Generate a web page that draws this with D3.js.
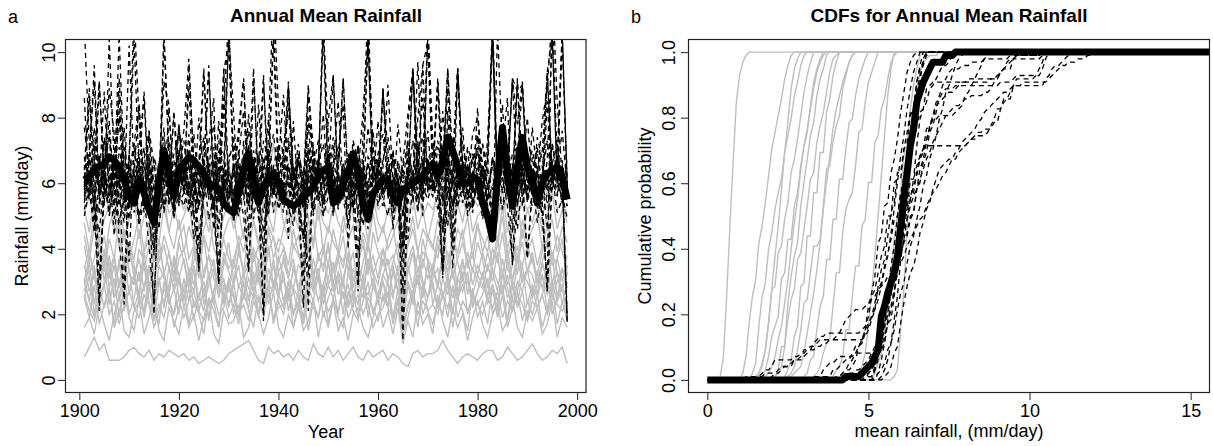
<!DOCTYPE html>
<html>
<head>
<meta charset="utf-8">
<script src="https://cdn.jsdelivr.net/npm/d3@7"></script>
<style>
body { margin: 0; background: #fff; }
svg { font-family: "Liberation Sans", Arial, sans-serif; }
</style>
</head>
<body>
<div id="chart"></div>
<script>
// years of record
const years = d3.range(1901, 1999);

// thick black series (observed)
const observed = [
  6.1, 6.2, 6.4, 6.5, 6.6, 6.8, 6.7, 6.5, 6.1, 5.6,
  5.4, 6.1, 5.7, 5.2, 4.8, 6.0, 7.0, 6.3, 5.6, 6.3,
  6.6, 6.8, 6.7, 6.5, 6.3, 6.0, 5.9, 5.8, 5.4, 5.2,
  5.1, 5.8, 6.4, 6.9, 6.0, 5.4, 5.9, 6.2, 6.3, 6.0,
  5.5, 5.4, 5.3, 5.4, 5.6, 5.7, 5.9, 6.2, 6.4, 6.5,
  5.4, 5.5, 6.0, 6.3, 6.9, 6.3, 5.4, 4.9, 5.7, 5.9,
  6.1, 6.1, 5.6, 5.4, 5.8, 5.9, 6.0, 6.1, 6.2, 6.4,
  6.6, 6.2, 6.7, 7.4, 7.0, 6.5, 6.0, 6.0, 6.2, 6.1,
  5.4, 5.0, 4.3, 6.2, 7.7, 6.3, 5.3, 6.5, 7.4, 6.5,
  6.1, 5.4, 6.0, 6.3, 6.4, 6.5, 6.2, 5.5
];

// dashed black series (wet models)
const modelsHigh = [
  [10.8, 7.2, 5.1, 2.4, 6.3, 8.9, 7.5, 4.2, 2.6, 6.8,
   11.2, 7.9, 5.6, 4.1, 2.3, 6.2, 9.1, 8.4, 5.3, 6.9,
   7.6, 9.8, 6.5, 3.5, 5.8, 7.2, 8.6, 3.2, 6.4, 10.6,
   8.1, 5.4, 7.3, 4.4, 9.2, 6.0, 2.1, 7.7, 11.8, 8.3,
   6.6, 4.3, 7.9, 5.5, 3.0, 8.8, 7.1, 6.3, 10.9, 7.4,
   5.2, 6.8, 8.4, 4.0, 6.7, 2.9, 7.6, 11.5, 6.2, 5.7,
   8.7, 7.0, 4.6, 6.1, 2.7, 7.8, 9.4, 6.9, 5.0, 11.0,
   7.3, 6.5, 3.4, 8.2, 4.3, 9.5, 6.6, 5.9, 7.5, 8.0,
   6.4, 5.3, 4.2, 10.7, 7.0, 8.6, 4.5, 6.8, 9.0, 5.6,
   7.7, 6.2, 4.9, 3.0, 12.0, 8.5, 6.1, 2.0],
  [6.4, 8.9, 5.6, 5.1, 7.3, 6.0, 5.4, 9.2, 6.2, 4.9,
   5.9, 7.1, 8.6, 5.5, 4.6, 6.3, 7.4, 5.8, 8.2, 5.3,
   6.6, 5.7, 7.5, 5.9, 9.4, 6.1, 5.2, 6.8, 7.0, 5.6,
   6.2, 7.7, 9.1, 5.4, 6.0, 6.9, 5.8, 5.0, 6.5, 7.2,
   5.7, 8.8, 6.3, 5.5, 4.4, 7.1, 5.1, 6.6, 6.0, 7.9,
   9.3, 5.9, 5.6, 6.7, 7.2, 4.8, 6.4, 5.8, 7.6, 6.1,
   8.9, 5.5, 6.8, 6.0, 4.2, 6.9, 6.3, 8.0, 9.6, 5.7,
   6.2, 9.0, 5.3, 6.7, 7.4, 5.8, 6.5, 5.6, 6.1, 7.0,
   5.8, 7.3, 10.4, 5.9, 5.2, 6.6, 9.1, 6.2, 5.9, 6.8,
   5.6, 6.4, 7.0, 9.3, 6.1, 6.7, 5.4, 6.3],
  [5.6, 6.4, 5.3, 4.5, 6.1, 7.6, 4.9, 6.2, 5.5, 6.9,
   5.1, 6.0, 7.1, 4.8, 3.9, 5.8, 6.5, 7.3, 5.4, 6.3,
   5.8, 7.5, 5.0, 3.4, 6.2, 5.6, 6.7, 4.6, 6.4, 5.5,
   6.6, 5.2, 6.0, 7.2, 4.9, 6.1, 5.7, 6.9, 5.1, 6.0,
   5.5, 6.5, 5.8, 5.2, 4.3, 6.3, 7.1, 5.4, 6.0, 6.8,
   5.0, 6.2, 5.6, 6.6, 5.9, 3.9, 6.4, 5.7, 7.0, 5.3,
   6.0, 6.5, 5.1, 5.7, 4.1, 6.2, 7.3, 5.5, 6.3, 7.6,
   5.8, 6.6, 4.5, 6.9, 5.3, 6.0, 5.7, 6.5, 5.2, 6.2,
   5.5, 4.9, 4.2, 6.8, 7.8, 5.8, 6.3, 5.6, 6.9, 6.0,
   6.4, 5.2, 6.1, 4.6, 6.6, 7.2, 5.8, 5.3],
  [7.7, 6.3, 5.7, 6.9, 5.3, 10.4, 6.6, 5.9, 7.1, 5.5,
   6.5, 6.1, 5.6, 7.5, 5.0, 5.9, 6.8, 6.0, 5.2, 7.8,
   6.0, 6.7, 6.2, 5.4, 7.2, 6.4, 7.9, 5.8, 9.5, 6.1,
   5.6, 6.6, 5.9, 8.1, 6.2, 5.3, 6.8, 6.0, 5.7, 7.1,
   6.4, 5.8, 5.4, 6.9, 6.1, 9.0, 6.5, 5.6, 6.2, 7.0,
   5.8, 6.3, 9.2, 5.9, 5.2, 7.1, 6.0, 6.6, 5.5, 6.8,
   6.2, 5.7, 7.0, 5.4, 6.4, 5.9, 9.5, 6.1, 5.6, 6.7,
   7.1, 6.2, 5.8, 6.9, 6.0, 9.5, 6.5, 5.1, 5.9, 7.4,
   6.6, 6.0, 4.9, 5.8, 7.0, 6.3, 5.9, 9.1, 6.4, 5.5,
   6.8, 5.7, 6.2, 7.3, 6.0, 6.6, 10.5, 5.9],
  [5.2, 5.9, 6.6, 3.1, 5.5, 6.2, 5.3, 6.5, 2.3, 5.7,
   6.3, 5.0, 5.6, 6.8, 3.8, 5.9, 6.5, 5.3, 6.1, 5.4,
   5.7, 6.6, 5.1, 5.8, 6.3, 4.9, 5.6, 3.0, 6.2, 5.3,
   6.5, 5.4, 5.9, 3.4, 6.7, 5.7, 5.1, 6.2, 5.6, 6.4,
   5.3, 5.9, 6.5, 5.5, 2.2, 6.1, 5.7, 6.8, 5.0, 5.6,
   6.3, 5.2, 5.8, 6.1, 5.4, 2.7, 6.5, 5.9, 5.3, 6.7,
   5.6, 6.1, 5.2, 5.9, 1.6, 6.3, 5.7, 6.8, 5.4, 6.2,
   5.9, 6.5, 3.2, 5.6, 5.1, 6.1, 5.8, 6.6, 5.3, 6.3,
   5.5, 5.9, 6.5, 5.7, 6.2, 5.3, 3.6, 6.6, 5.6, 6.1,
   5.7, 6.3, 5.4, 2.7, 6.5, 5.9, 6.1, 1.8],
  [6.2, 7.0, 9.1, 5.6, 7.4, 6.5, 5.3, 7.1, 6.0, 6.6,
   10.4, 6.3, 5.5, 6.9, 5.8, 6.4, 7.7, 5.4, 6.1, 7.0,
   5.7, 9.6, 6.6, 5.9, 6.8, 5.5, 6.3, 7.3, 5.8, 10.5,
   6.5, 5.4, 6.9, 6.0, 9.5, 5.6, 6.6, 7.1, 5.9, 5.3,
   6.8, 6.2, 5.7, 6.7, 5.5, 7.2, 6.1, 6.5, 10.6, 5.8,
   6.9, 5.6, 6.6, 6.1, 7.0, 5.7, 6.3, 10.4, 5.5, 6.5,
   5.9, 6.8, 5.6, 6.7, 6.0, 7.3, 5.4, 6.4, 5.8, 10.5,
   6.6, 6.0, 6.9, 5.6, 6.5, 5.9, 6.8, 5.5, 6.3, 7.1,
   5.8, 6.6, 10.6, 6.1, 6.9, 5.6, 6.5, 5.9, 6.8, 5.4,
   6.3, 7.1, 5.7, 6.7, 10.5, 6.0, 6.5, 5.6],
  [5.0, 5.8, 4.5, 5.4, 6.3, 5.1, 6.0, 4.8, 5.7, 5.3,
   6.0, 4.7, 5.5, 6.4, 4.2, 5.8, 5.2, 6.1, 5.0, 5.7,
   5.3, 6.1, 4.9, 5.8, 5.5, 6.3, 4.6, 5.7, 5.2, 6.0,
   5.4, 5.0, 6.0, 5.3, 6.4, 4.9, 4.1, 5.8, 6.2, 5.2,
   5.7, 5.3, 4.7, 6.0, 5.5, 6.2, 5.0, 5.9, 5.3, 6.5,
   5.1, 6.0, 5.5, 4.8, 6.2, 5.7, 4.7, 5.9, 5.3, 6.1,
   5.5, 5.0, 6.2, 5.6, 5.1, 4.3, 6.0, 5.3, 5.9, 5.5,
   6.1, 5.2, 5.7, 4.7, 6.2, 5.3, 5.9, 5.0, 5.5, 6.1,
   4.9, 5.7, 5.3, 6.2, 5.2, 5.9, 5.5, 4.6, 6.1, 5.7,
   5.3, 5.9, 5.0, 5.7, 6.3, 5.1, 5.5, 6.0],
  [5.9, 8.6, 6.8, 5.5, 6.6, 7.9, 5.8, 8.2, 6.3, 3.6,
   7.1, 5.7, 6.7, 7.6, 5.9, 5.3, 10.4, 6.9, 6.0, 6.5,
   7.3, 5.8, 6.8, 4.1, 6.3, 9.4, 5.9, 7.0, 5.6, 6.6,
   7.4, 6.0, 6.5, 5.5, 7.0, 5.9, 3.8, 6.7, 7.5, 6.2,
   5.8, 7.2, 6.1, 6.9, 5.6, 3.2, 6.5, 7.3, 5.9, 6.7,
   7.1, 6.3, 5.8, 6.9, 6.0, 7.2, 5.6, 4.6, 6.5, 5.9,
   6.7, 7.4, 6.2, 5.6, 3.6, 6.9, 6.0, 7.2, 5.9, 6.5,
   5.8, 7.1, 6.3, 6.8, 4.0, 6.1, 7.3, 5.9, 6.9, 6.4,
   7.2, 5.8, 6.7, 6.1, 7.5, 5.6, 6.5, 7.1, 6.3, 3.7,
   6.0, 6.9, 6.5, 5.8, 7.2, 6.1, 6.7, 5.6],
  [6.2, 5.5, 7.2, 6.0, 8.8, 5.6, 6.6, 5.9, 7.7, 5.3,
   6.4, 8.4, 5.7, 5.2, 6.8, 6.2, 5.6, 8.3, 6.0, 7.0,
   5.8, 6.6, 5.4, 8.0, 6.2, 5.9, 5.2, 6.5, 8.6, 6.0,
   5.6, 6.8, 8.2, 5.8, 6.5, 5.4, 6.2, 8.0, 5.7, 6.6,
   8.7, 6.0, 5.5, 6.7, 5.8, 6.9, 5.3, 6.2, 8.1, 5.7,
   6.5, 8.5, 5.8, 5.2, 6.8, 6.1, 5.5, 6.6, 6.0, 7.9,
   5.7, 6.5, 5.3, 7.8, 6.2, 5.8, 5.5, 6.8, 8.6, 6.0,
   6.7, 5.7, 8.2, 6.2, 5.3, 6.5, 5.8, 7.0, 5.7, 8.3,
   6.0, 5.5, 6.8, 6.2, 8.4, 5.7, 6.6, 5.3, 6.5, 8.0,
   5.9, 6.2, 5.5, 8.5, 5.8, 6.8, 6.0, 5.3],
  [5.4, 6.4, 5.8, 2.1, 6.1, 5.0, 6.6, 5.5, 4.8, 6.3,
   5.6, 6.7, 5.1, 5.9, 2.0, 6.4, 5.3, 6.2, 4.9, 6.6,
   5.8, 5.1, 6.3, 3.3, 5.6, 6.5, 5.2, 2.9, 6.1, 5.5,
   6.6, 5.8, 5.0, 3.3, 6.3, 5.4, 1.8, 6.5, 5.6, 6.1,
   5.1, 6.5, 5.8, 5.3, 6.2, 2.1, 6.6, 5.6, 5.0, 6.3,
   5.8, 5.3, 6.5, 5.6, 6.1, 5.1, 6.7, 5.4, 6.3, 5.8,
   5.3, 6.5, 5.6, 6.1, 1.2, 5.4, 6.3, 5.1, 6.7, 5.8,
   6.1, 5.6, 3.1, 6.5, 3.4, 5.8, 6.3, 5.2, 6.1, 5.5,
   6.5, 5.6, 5.1, 6.3, 5.8, 6.7, 3.5, 5.4, 6.1, 3.7,
   5.8, 6.5, 5.3, 2.7, 6.1, 5.6, 6.6, 1.7],
  [6.8, 5.9, 7.7, 5.6, 6.7, 7.4, 6.1, 8.0, 5.5, 6.4,
   7.2, 6.3, 5.8, 7.6, 6.6, 5.3, 7.1, 6.0, 6.9, 7.5,
   6.2, 7.0, 5.7, 6.6, 7.4, 6.3, 5.4, 7.9, 6.0, 6.8,
   7.1, 5.9, 6.5, 7.6, 6.2, 5.2, 7.3, 6.7, 5.9, 7.0,
   6.4, 7.4, 5.6, 6.9, 6.2, 7.8, 5.8, 6.6, 7.2, 6.0,
   6.5, 7.1, 6.1, 5.5, 7.3, 6.7, 5.9, 7.7, 6.3, 6.9,
   7.5, 6.0, 6.7, 5.6, 6.5, 7.2, 6.2, 6.9, 7.4, 5.8,
   6.6, 7.3, 6.3, 7.0, 5.9, 6.5, 7.7, 5.6, 6.8, 6.2,
   7.2, 6.4, 5.8, 6.7, 7.8, 6.0, 6.9, 7.1, 6.2, 6.5,
   5.7, 7.4, 6.7, 6.1, 7.2, 6.3, 7.6, 5.9],
  [5.8, 6.8, 5.2, 9.1, 6.2, 5.6, 6.7, 5.3, 6.1, 6.5,
   5.5, 6.3, 8.8, 5.8, 6.7, 5.0, 6.1, 6.5, 5.6, 6.0,
   6.7, 5.3, 6.3, 5.8, 6.6, 9.6, 5.9, 5.4, 6.5, 6.1,
   5.7, 7.0, 5.5, 6.3, 5.9, 6.6, 9.3, 5.2, 6.5, 6.1,
   6.8, 9.1, 5.7, 6.3, 5.3, 6.6, 5.9, 6.5, 5.5, 6.9,
   6.1, 5.5, 6.6, 5.8, 6.3, 6.0, 5.2, 6.8, 6.5, 5.7,
   6.3, 5.9, 5.4, 6.6, 5.7, 6.5, 6.1, 9.7, 5.9, 6.8,
   5.7, 6.3, 6.6, 9.5, 5.9, 5.3, 6.5, 6.1, 5.7, 6.6,
   6.3, 5.5, 6.8, 5.9, 6.5, 5.7, 6.1, 9.2, 5.3, 6.6,
   5.9, 6.5, 5.7, 9.4, 6.3, 6.1, 5.5, 6.8],
  [6.1, 5.6, 6.6, 5.9, 6.3, 5.4, 6.5, 6.0, 5.3, 6.8,
   5.8, 6.3, 5.5, 6.7, 5.2, 6.1, 6.5, 5.6, 6.3, 5.9,
   6.5, 5.6, 6.2, 5.3, 6.3, 5.8, 6.7, 5.5, 6.1, 6.5,
   5.6, 6.3, 5.9, 6.8, 6.1, 5.4, 6.5, 5.9, 6.3, 5.6,
   6.2, 6.6, 5.5, 5.9, 5.2, 6.3, 6.7, 6.1, 5.8, 6.5,
   5.4, 6.1, 6.3, 5.8, 6.7, 5.6, 6.2, 5.3, 6.5, 5.9,
   6.3, 5.8, 6.1, 5.6, 5.0, 6.5, 5.9, 6.3, 6.7, 6.0,
   5.8, 6.3, 5.4, 6.6, 6.1, 5.8, 6.7, 5.6, 6.3, 6.1,
   6.5, 5.9, 5.4, 6.3, 6.1, 6.7, 5.6, 5.9, 6.5, 6.2,
   6.1, 5.6, 6.3, 5.8, 6.6, 6.1, 5.4, 5.9],
  [8.6, 5.7, 6.7, 9.1, 6.0, 6.9, 5.8, 10.5, 6.4, 5.9,
   7.2, 8.4, 5.6, 6.5, 6.1, 5.8, 10.7, 6.8, 6.0, 7.8,
   6.3, 7.0, 5.9, 6.6, 9.5, 6.1, 7.1, 5.5, 8.2, 11.1,
   6.5, 7.3, 9.2, 6.0, 6.8, 5.7, 9.1, 6.2, 10.8, 6.6,
   7.0, 8.3, 6.1, 7.2, 5.8, 8.0, 6.7, 6.3, 11.3, 6.0,
   7.4, 6.6, 9.2, 6.2, 6.9, 5.8, 6.4, 10.5, 7.1, 6.1,
   8.9, 6.3, 7.0, 6.0, 6.6, 8.1, 9.5, 6.2, 6.7, 10.6,
   6.5, 9.1, 6.1, 9.5, 6.8, 9.5, 6.2, 7.1, 6.6, 7.5,
   6.0, 6.8, 11.0, 6.3, 7.2, 6.1, 9.2, 7.8, 9.1, 6.5,
   7.0, 6.2, 7.9, 8.9, 11.2, 6.6, 10.7, 6.0],
  [5.5, 6.2, 4.7, 6.0, 5.7, 6.5, 4.4, 5.9, 6.3, 5.2,
   6.1, 4.9, 5.8, 6.4, 5.4, 4.6, 6.2, 5.9, 5.1, 6.6,
   5.7, 6.0, 4.3, 5.6, 6.3, 5.8, 5.0, 6.1, 5.5, 6.4,
   4.8, 5.9, 6.2, 5.3, 6.6, 5.7, 4.5, 6.0, 5.8, 6.3,
   5.6, 6.1, 5.0, 5.9, 4.2, 6.4, 5.7, 6.2, 5.4, 6.0,
   6.3, 5.5, 6.0, 4.7, 5.8, 6.5, 5.2, 6.1, 5.9, 5.4,
   6.2, 5.8, 4.9, 6.3, 4.0, 5.7, 6.1, 5.5, 6.4, 5.9,
   5.6, 6.2, 4.6, 5.9, 5.3, 6.0, 6.5, 5.7, 5.1, 6.2,
   5.8, 5.3, 4.4, 6.1, 6.6, 5.6, 6.0, 5.8, 6.3, 5.5,
   6.0, 4.8, 5.9, 5.4, 6.2, 6.4, 5.7, 4.9],
  [6.0, 6.6, 9.6, 5.7, 6.3, 5.9, 6.8, 8.7, 5.5, 10.2,
   6.3, 5.8, 6.5, 6.0, 5.4, 6.7, 6.1, 5.9, 8.1, 6.4,
   6.0, 8.9, 5.6, 6.3, 5.9, 6.6, 6.2, 5.7, 9.4, 10.3,
   6.2, 5.8, 6.7, 6.1, 5.5, 8.4, 5.9, 6.4, 10.4, 6.0,
   5.7, 9.0, 6.3, 6.0, 5.8, 8.8, 6.5, 5.6, 6.2, 6.0,
   9.3, 6.1, 5.9, 6.6, 5.6, 6.3, 8.2, 10.4, 6.0, 5.8,
   6.5, 9.0, 6.0, 5.7, 6.4, 6.1, 9.5, 5.8, 9.6, 10.3,
   6.2, 9.2, 6.4, 8.9, 6.0, 9.5, 5.7, 6.3, 6.1, 5.9,
   6.5, 6.2, 10.5, 5.8, 6.4, 6.0, 9.2, 8.8, 9.0, 6.1,
   5.8, 6.4, 6.2, 9.4, 10.5, 6.0, 10.5, 5.9],
  [5.7, 6.4, 5.2, 6.8, 5.9, 5.4, 6.6, 6.1, 5.0, 6.3,
   5.6, 6.9, 5.3, 6.2, 5.8, 6.5, 5.1, 6.0, 6.7, 5.5,
   6.3, 5.7, 6.1, 5.2, 6.6, 5.9, 5.4, 6.4, 5.8, 6.2,
   5.3, 6.6, 5.9, 6.3, 5.6, 6.8, 5.5, 6.1, 5.7, 6.4,
   5.9, 5.2, 6.5, 5.8, 6.0, 5.4, 6.7, 5.6, 6.2, 5.9,
   6.4, 5.5, 6.0, 6.6, 5.3, 6.2, 5.8, 5.5, 6.5, 6.0,
   5.7, 6.3, 5.4, 6.1, 5.0, 6.4, 5.9, 6.7, 5.6, 6.2,
   5.8, 6.5, 5.6, 6.3, 5.9, 6.1, 5.4, 6.6, 5.7, 6.0,
   6.3, 5.5, 5.9, 6.4, 5.7, 6.8, 6.0, 5.4, 6.2, 5.8,
   6.5, 5.9, 5.6, 6.1, 6.4, 5.7, 6.2, 5.6]
];

// grey series (dry models)
const modelsLow = [
  [0.7, 1.0, 1.3, 0.9, 1.1, 0.6, 0.6, 0.6, 0.7, 0.9,
   1.0, 0.8, 0.7, 0.9, 0.6, 0.8, 0.7, 0.9, 0.8, 0.7,
   0.8, 0.6, 0.7, 0.5, 0.6, 0.7, 0.6, 0.5, 0.6, 0.8,
   0.9, 1.0, 1.1, 1.2, 0.9, 0.6, 0.5, 1.0, 0.8, 0.9,
   0.7, 0.8, 0.6, 0.9, 0.7, 0.6, 1.1, 0.8, 0.7, 1.0,
   0.7, 0.9, 0.6, 0.8, 1.0, 0.7, 0.6, 0.9, 0.7, 0.8,
   0.9, 0.6, 0.8, 0.7, 0.5, 0.4, 0.8, 0.9, 0.7, 0.8,
   0.8, 0.9, 1.2, 0.9, 0.7, 0.5, 0.7, 0.8, 0.7, 0.6,
   0.8, 0.9, 0.9, 0.6, 0.7, 1.0, 0.8, 0.6, 0.7, 0.9,
   1.1, 0.8, 0.6, 0.7, 0.9, 0.8, 1.0, 0.5],
  [1.6, 1.9, 1.4, 2.3, 1.7, 1.2, 2.0, 2.6, 1.5, 1.3,
   2.1, 2.4, 1.4, 1.9, 2.6, 1.5, 1.2, 2.2, 1.8, 1.4,
   2.3, 1.6, 2.0, 1.2, 1.9, 2.5, 1.4, 1.1, 2.1, 1.7,
   1.8, 2.3, 1.3, 1.6, 2.4, 2.0, 1.4, 1.9, 2.7, 1.6,
   1.3, 2.0, 1.6, 2.3, 1.5, 1.8, 2.5, 1.3, 2.1, 1.6,
   2.4, 1.5, 1.9, 1.2, 2.0, 2.2, 1.6, 1.3, 1.9, 2.5,
   1.6, 2.1, 1.4, 2.2, 1.1, 1.8, 1.3, 2.4, 1.7, 2.0,
   1.4, 2.6, 1.8, 1.3, 2.2, 1.6, 2.0, 1.2, 1.9, 2.4,
   1.7, 1.3, 2.0, 2.3, 1.5, 1.8, 2.5, 1.6, 1.3, 2.1,
   1.8, 2.2, 1.4, 1.7, 2.4, 1.3, 1.9, 1.6],
  [2.5, 1.9, 2.9, 1.7, 2.3, 2.8, 1.6, 2.1, 2.7, 1.9,
   1.5, 2.5, 2.1, 3.0, 1.8, 2.3, 1.9, 2.7, 1.6, 2.2,
   2.8, 1.7, 2.4, 2.0, 1.4, 2.5, 2.1, 1.6, 2.7, 1.9,
   2.3, 1.7, 3.0, 2.1, 1.6, 2.6, 1.9, 2.9, 1.7, 2.4,
   2.0, 2.7, 1.6, 2.2, 2.6, 1.5, 2.4, 1.9, 2.9, 1.7,
   2.5, 1.9, 1.6, 2.7, 2.1, 1.8, 3.1, 2.3, 1.6, 2.0,
   2.2, 2.7, 1.7, 2.4, 1.4, 1.9, 2.6, 1.6, 2.9, 2.1,
   1.7, 2.4, 2.0, 3.0, 1.6, 2.5, 2.1, 1.5, 2.8, 1.9,
   2.4, 1.7, 2.8, 1.9, 2.6, 1.6, 2.2, 2.7, 1.8, 2.4,
   2.0, 2.6, 1.6, 2.2, 2.9, 1.7, 2.4, 1.8],
  [3.1, 2.4, 1.9, 2.9, 2.2, 2.8, 1.7, 2.6, 3.2, 2.0,
   2.5, 3.3, 1.9, 2.8, 2.2, 1.7, 3.0, 2.4, 2.0, 3.1,
   2.2, 2.8, 1.8, 2.6, 2.1, 3.2, 2.4, 1.6, 2.9, 2.3,
   3.0, 1.9, 2.6, 2.2, 3.3, 2.0, 2.5, 2.9, 1.8, 2.6,
   2.2, 3.0, 2.0, 2.7, 1.7, 2.8, 2.4, 3.2, 1.9, 2.5,
   2.9, 2.0, 3.1, 2.2, 2.7, 1.9, 2.4, 3.0, 2.0, 2.6,
   2.4, 3.0, 1.9, 2.8, 1.6, 2.2, 2.7, 3.1, 2.0, 2.5,
   3.0, 2.2, 2.6, 1.9, 2.9, 2.4, 3.3, 2.0, 2.6, 2.3,
   2.6, 3.1, 2.0, 2.4, 2.9, 1.8, 3.0, 2.2, 2.7, 1.8,
   2.8, 2.2, 2.6, 3.2, 2.0, 2.5, 2.9, 1.9],
  [2.5, 3.2, 2.0, 2.9, 3.6, 2.3, 3.1, 1.9, 2.8, 3.4,
   2.2, 2.7, 3.5, 2.4, 1.8, 3.0, 3.3, 2.3, 2.8, 2.0,
   3.1, 2.4, 3.4, 2.1, 2.8, 1.8, 2.7, 3.3, 2.3, 3.0,
   2.0, 2.9, 2.5, 3.5, 2.7, 1.9, 3.2, 2.3, 3.0, 2.5,
   3.3, 2.1, 2.8, 2.5, 1.9, 3.2, 2.7, 3.4, 2.3, 2.9,
   2.5, 3.1, 2.0, 3.3, 2.7, 2.3, 3.2, 1.9, 2.9, 2.5,
   3.0, 2.2, 3.4, 2.7, 1.8, 2.9, 2.3, 3.2, 2.5, 3.6,
   2.3, 2.9, 2.5, 3.2, 2.0, 3.1, 2.7, 3.3, 2.2, 2.7,
   3.2, 2.3, 2.9, 2.0, 3.3, 2.5, 3.0, 2.7, 3.5, 2.3,
   2.9, 2.5, 3.2, 2.1, 2.7, 3.3, 2.3, 3.0],
  [3.5, 2.7, 3.2, 2.3, 3.0, 3.6, 2.5, 2.9, 3.8, 2.6,
   3.2, 2.3, 2.9, 3.4, 2.5, 3.1, 2.2, 3.5, 2.7, 3.2,
   2.5, 3.1, 2.7, 3.7, 2.3, 2.9, 3.4, 2.5, 3.1, 2.2,
   2.9, 3.5, 2.5, 3.1, 2.7, 3.3, 2.3, 2.9, 3.7, 2.6,
   3.1, 2.5, 3.4, 2.9, 2.3, 3.2, 2.7, 3.1, 2.5, 3.6,
   2.7, 3.3, 2.9, 2.3, 3.4, 3.0, 2.5, 3.7, 2.8, 2.6,
   3.2, 2.9, 2.5, 3.5, 2.1, 3.0, 2.6, 3.4, 2.9, 2.5,
   3.1, 3.4, 2.6, 2.9, 3.3, 2.5, 3.6, 3.0, 2.6, 3.2,
   2.9, 2.5, 3.4, 3.0, 2.6, 3.7, 2.8, 2.3, 3.2, 3.0,
   2.6, 3.3, 2.8, 3.5, 2.5, 3.0, 3.4, 2.8],
  [2.7, 3.6, 2.3, 3.2, 4.0, 2.8, 3.5, 2.4, 3.1, 3.8,
   3.4, 2.5, 3.9, 2.9, 2.2, 3.5, 3.1, 2.6, 3.7, 3.2,
   2.4, 3.4, 2.9, 3.8, 2.5, 3.3, 2.3, 3.6, 3.0, 2.7,
   3.7, 2.8, 3.3, 2.4, 3.9, 3.0, 2.5, 3.4, 2.8, 3.8,
   3.1, 2.4, 3.5, 2.7, 3.2, 4.1, 2.8, 3.4, 2.5, 3.1,
   3.6, 2.6, 3.1, 3.8, 2.4, 3.4, 2.8, 3.7, 3.2, 2.5,
   3.2, 3.7, 2.6, 3.1, 2.1, 3.5, 2.8, 3.9, 3.0, 2.5,
   3.4, 2.8, 3.8, 3.2, 2.5, 3.1, 3.7, 2.6, 3.4, 3.0,
   2.8, 3.5, 3.0, 3.9, 2.6, 3.2, 2.4, 3.7, 3.0, 3.4,
   3.2, 2.6, 3.6, 3.0, 3.8, 2.5, 3.4, 2.8],
  [3.0, 3.8, 3.3, 2.6, 3.9, 3.1, 3.7, 2.8, 3.5, 4.1,
   3.1, 3.7, 2.7, 3.5, 2.9, 4.0, 3.3, 2.6, 3.8, 3.1,
   3.7, 2.9, 3.5, 2.4, 3.3, 3.8, 3.1, 2.7, 3.7, 3.3,
   2.9, 4.0, 3.3, 3.7, 2.7, 3.1, 3.9, 2.9, 3.5, 2.6,
   3.8, 3.1, 2.8, 3.5, 3.3, 2.5, 3.7, 3.1, 4.0, 2.9,
   3.3, 3.7, 2.9, 3.9, 2.8, 3.5, 3.1, 4.1, 3.3, 2.9,
   3.7, 3.1, 3.5, 2.7, 2.5, 3.3, 3.9, 2.9, 3.7, 3.1,
   3.5, 2.9, 3.9, 3.3, 4.0, 2.7, 3.1, 3.7, 2.9, 3.5,
   3.1, 3.9, 3.3, 2.7, 3.7, 2.9, 3.5, 4.1, 3.1, 3.3,
   3.7, 2.9, 3.5, 3.1, 3.9, 3.3, 2.7, 3.5],
  [4.1, 3.2, 3.7, 4.4, 3.0, 3.8, 2.8, 3.5, 4.5, 3.3,
   2.9, 4.0, 3.6, 2.7, 3.7, 4.3, 3.2, 3.9, 3.0, 4.2,
   3.6, 2.8, 4.0, 3.3, 4.4, 3.1, 3.7, 2.6, 3.5, 4.2,
   3.0, 3.9, 3.3, 4.6, 2.9, 3.7, 3.2, 4.1, 2.8, 3.6,
   4.0, 3.2, 3.7, 2.7, 3.6, 4.3, 3.0, 3.9, 3.3, 4.2,
   2.9, 3.7, 4.4, 3.3, 3.9, 2.8, 3.6, 4.2, 3.2, 3.7,
   4.0, 3.0, 3.6, 4.2, 2.5, 3.3, 3.9, 2.9, 4.3, 3.6,
   3.2, 4.1, 3.7, 2.9, 4.5, 3.6, 3.0, 3.9, 3.3, 4.2,
   3.7, 2.8, 3.6, 4.4, 3.2, 4.0, 3.0, 3.7, 4.2, 3.3,
   3.9, 3.0, 3.6, 4.2, 2.9, 3.7, 4.3, 3.2],
  [4.4, 3.6, 4.7, 3.9, 3.3, 4.3, 3.7, 4.9, 3.4, 4.1,
   3.7, 4.6, 3.4, 4.1, 5.0, 3.6, 4.4, 3.9, 3.2, 4.3,
   4.7, 3.7, 4.1, 3.1, 4.4, 3.9, 4.8, 3.5, 4.3, 3.7,
   3.4, 4.4, 3.9, 4.8, 3.6, 4.1, 3.2, 4.6, 3.7, 4.3,
   4.1, 3.5, 4.6, 3.9, 3.4, 4.4, 4.9, 3.7, 4.1, 3.5,
   4.6, 3.9, 3.4, 4.3, 4.7, 3.7, 4.1, 3.2, 4.5, 3.9,
   3.5, 4.3, 4.7, 3.7, 3.0, 4.1, 4.6, 3.9, 3.4, 4.4,
   4.1, 3.7, 4.9, 3.5, 4.3, 3.9, 4.6, 3.4, 4.1, 4.8,
   3.9, 4.4, 3.5, 4.1, 5.0, 3.7, 4.3, 3.2, 4.6, 3.9,
   4.3, 3.5, 4.1, 4.7, 3.7, 4.4, 3.9, 3.4],
  [4.8, 3.9, 5.1, 4.2, 3.5, 4.7, 5.2, 4.0, 4.6, 3.7,
   4.3, 5.0, 3.9, 4.7, 3.6, 4.2, 5.3, 4.5, 4.0, 4.9,
   3.9, 4.7, 4.2, 3.4, 4.6, 5.1, 4.0, 3.6, 4.4, 4.9,
   5.0, 4.0, 4.6, 3.8, 4.9, 4.2, 3.5, 4.7, 4.3, 3.9,
   4.6, 5.2, 4.0, 4.4, 3.6, 4.9, 4.2, 5.3, 3.9, 4.7,
   4.2, 3.9, 5.0, 4.3, 4.7, 3.7, 4.5, 4.0, 5.1, 4.2,
   4.7, 4.0, 4.4, 4.9, 3.3, 4.2, 5.0, 3.9, 4.6, 4.3,
   4.0, 4.9, 4.2, 5.2, 3.9, 4.6, 4.3, 5.0, 3.7, 4.7,
   4.3, 3.9, 4.7, 4.2, 5.3, 4.0, 4.6, 3.6, 4.9, 4.2,
   4.6, 5.0, 4.0, 4.3, 4.9, 3.9, 4.7, 4.2],
  [3.0, 2.4, 3.5, 2.2, 2.9, 3.3, 2.5, 3.7, 2.1, 2.8,
   3.2, 2.6, 2.0, 3.4, 2.7, 3.1, 2.3, 2.9, 3.6, 2.5,
   2.8, 3.3, 2.2, 2.6, 3.0, 1.9, 2.7, 3.4, 2.4, 3.1,
   2.6, 2.0, 3.2, 2.8, 2.5, 3.5, 2.3, 2.9, 2.7, 3.3,
   2.4, 3.0, 2.7, 2.1, 3.3, 2.6, 3.1, 2.4, 2.9, 3.6,
   2.7, 3.2, 2.5, 2.9, 2.2, 3.4, 2.8, 2.6, 3.1, 2.3,
   3.0, 2.5, 3.3, 2.7, 1.8, 2.9, 2.4, 3.2, 2.6, 3.5,
   2.8, 2.2, 3.1, 2.6, 3.4, 2.5, 2.9, 3.0, 2.3, 2.7,
   3.3, 2.6, 2.9, 2.4, 3.2, 2.8, 2.1, 3.0, 2.7, 3.4,
   2.5, 2.9, 3.2, 2.6, 3.0, 2.4, 2.8, 2.2],
  [5.2, 4.5, 5.6, 4.2, 4.9, 5.3, 4.6, 5.8, 4.3, 4.9,
   5.5, 4.3, 5.0, 5.2, 4.0, 4.8, 5.7, 4.5, 5.3, 4.6,
   5.0, 5.5, 4.2, 4.8, 5.2, 4.5, 5.7, 4.3, 5.0, 5.4,
   4.6, 5.2, 4.3, 5.6, 4.8, 4.1, 5.4, 5.0, 4.5, 5.8,
   4.8, 4.3, 5.2, 4.6, 5.6, 5.0, 4.0, 5.4, 4.8, 4.5,
   5.4, 4.8, 4.5, 5.7, 5.0, 4.6, 5.2, 4.2, 5.6, 4.8,
   4.5, 5.2, 4.8, 5.4, 3.9, 5.0, 5.6, 4.6, 5.2, 4.3,
   5.0, 5.7, 4.6, 5.2, 4.3, 5.4, 4.8, 5.6, 4.5, 5.0,
   5.2, 4.6, 5.5, 4.8, 5.9, 4.5, 5.0, 5.4, 4.3, 5.2,
   4.8, 5.4, 4.5, 5.0, 5.7, 4.6, 5.2, 4.8],
  [5.8, 6.3, 5.5, 6.4, 5.7, 6.1, 5.3, 6.6, 5.9, 6.2,
   5.5, 6.0, 6.4, 5.7, 5.2, 6.3, 5.8, 6.5, 5.6, 6.1,
   6.3, 5.6, 6.1, 5.3, 5.9, 6.5, 5.5, 6.0, 5.8, 6.6,
   5.6, 6.3, 5.8, 6.4, 5.4, 6.1, 5.3, 5.9, 6.3, 5.7,
   6.1, 5.5, 6.4, 5.8, 5.6, 6.3, 5.9, 6.6, 5.4, 6.0,
   5.8, 6.4, 5.6, 6.1, 6.3, 5.5, 6.0, 5.7, 6.5, 5.9,
   6.2, 5.6, 6.1, 5.8, 5.2, 6.4, 5.7, 6.3, 5.9, 6.0,
   5.6, 6.1, 6.5, 5.4, 6.3, 5.8, 6.6, 5.7, 6.0, 6.2,
   5.8, 6.3, 5.5, 6.0, 6.5, 5.6, 6.1, 5.8, 6.7, 5.6,
   6.0, 5.8, 6.3, 5.6, 6.4, 5.9, 6.1, 5.5],
  [6.3, 6.0, 6.6, 6.2, 6.4, 5.9, 6.5, 6.1, 6.8, 6.3,
   6.1, 6.5, 6.2, 6.0, 6.7, 6.3, 6.4, 5.9, 6.2, 6.6,
   6.4, 6.1, 6.3, 6.5, 6.0, 6.2, 6.9, 6.3, 6.1, 6.4,
   6.2, 6.6, 6.0, 6.3, 6.5, 6.1, 6.4, 6.2, 7.2, 6.0,
   6.3, 6.1, 6.5, 6.2, 6.4, 6.0, 6.3, 6.7, 6.1, 6.2,
   6.5, 6.2, 6.3, 6.0, 6.6, 6.4, 6.1, 6.3, 6.2, 6.5,
   6.1, 6.4, 6.2, 6.3, 5.8, 6.5, 6.0, 6.4, 6.2, 6.3,
   6.6, 6.2, 6.0, 6.4, 6.3, 6.1, 6.5, 6.2, 6.7, 6.0,
   6.3, 6.5, 6.1, 6.2, 6.4, 6.0, 6.3, 6.6, 6.2, 6.4,
   6.1, 6.3, 6.5, 6.2, 6.0, 6.4, 6.2, 6.3],
  [3.4, 4.0, 3.1, 3.7, 4.4, 3.3, 3.8, 2.9, 3.6, 4.2,
   3.5, 3.0, 3.9, 4.3, 3.2, 3.6, 4.1, 3.4, 2.8, 3.7,
   4.0, 3.3, 3.6, 4.5, 3.1, 3.8, 3.5, 2.7, 3.9, 3.4,
   3.7, 4.2, 3.2, 3.5, 4.0, 3.6, 3.0, 3.9, 4.4, 3.3,
   3.6, 3.1, 4.1, 3.8, 3.4, 4.6, 3.2, 3.7, 3.5, 4.0,
   3.3, 3.9, 3.6, 4.2, 3.0, 3.7, 4.3, 3.4, 3.8, 3.1,
   4.0, 3.5, 3.8, 3.2, 2.6, 3.6, 4.1, 3.3, 3.9, 3.7,
   3.4, 4.4, 3.6, 3.9, 3.1, 3.7, 4.2, 3.5, 3.8, 3.2,
   3.9, 3.3, 4.0, 3.6, 4.5, 3.4, 3.1, 3.8, 3.5, 4.1,
   3.6, 3.2, 3.9, 4.3, 3.5, 3.7, 3.0, 3.8],
  [5.1, 5.6, 4.9, 5.4, 5.8, 5.2, 5.5, 4.8, 5.3, 5.7,
   5.4, 5.0, 5.6, 5.2, 4.7, 5.5, 5.8, 5.1, 5.3, 5.6,
   5.2, 5.7, 5.0, 5.4, 5.3, 4.9, 5.6, 5.1, 5.5, 5.8,
   5.3, 5.0, 5.5, 5.7, 5.1, 5.4, 4.8, 5.6, 5.2, 5.5,
   5.6, 5.2, 5.4, 5.0, 5.7, 5.3, 5.5, 4.9, 5.4, 5.1,
   5.5, 5.3, 5.8, 5.1, 5.4, 5.6, 5.0, 5.3, 5.7, 5.2,
   5.4, 5.1, 5.6, 5.3, 4.6, 5.5, 5.2, 5.7, 5.0, 5.4,
   5.2, 5.6, 5.3, 5.8, 5.0, 5.4, 5.5, 5.1, 5.6, 5.3,
   5.5, 5.2, 5.7, 5.4, 5.1, 5.6, 5.3, 4.9, 5.5, 5.2,
   5.4, 5.6, 5.1, 5.3, 5.7, 5.2, 5.5, 5.0],
  [2.6, 2.1, 1.8, 2.5, 2.9, 2.0, 2.4, 1.7, 2.3, 2.7,
   2.2, 1.9, 2.6, 2.3, 1.6, 2.1, 2.8, 2.4, 2.0, 2.5,
   1.9, 2.4, 2.7, 2.1, 1.8, 2.3, 2.6, 2.0, 2.2, 2.9,
   2.5, 2.0, 2.3, 1.8, 2.7, 2.4, 2.1, 2.6, 1.9, 2.2,
   2.3, 2.8, 2.0, 2.4, 1.7, 2.5, 2.2, 1.9, 2.6, 2.1,
   2.4, 2.1, 2.7, 1.9, 2.3, 2.6, 2.0, 2.5, 2.2, 1.8,
   2.6, 2.2, 1.9, 2.5, 1.5, 2.3, 2.7, 2.0, 2.4, 2.1,
   2.3, 2.0, 2.6, 2.2, 2.8, 1.9, 2.4, 2.1, 2.5, 2.3,
   2.0, 2.5, 2.2, 2.7, 1.9, 2.4, 2.1, 2.6, 2.3, 1.8,
   2.4, 2.2, 2.6, 2.0, 2.5, 2.3, 2.1, 2.4]
];

// tick labels
const yearTicks = [1900, 1920, 1940, 1960, 1980, 2000];
const rainTicks = [0, 2, 4, 6, 8, 10];
const cdfXTicks = [0, 5, 10, 15];
const cdfYTicks = [0, 0.2, 0.4, 0.6, 0.8, 1.0];

const width = 1213, height = 446;
const svg = d3.select("#chart")
    .append("svg")
        .attr("width", width)
        .attr("height", height);

const grey = "#bebebe";
const dash = "5,4";

// ---------- panel a: time series ----------
const boxA = {left: 65, right: 586.5, top: 39, bottom: 393};
const xA = d3.scaleLinear().domain([1897.12, 2001.88]).range([boxA.left, boxA.right]);
const yA = d3.scaleLinear().domain([-0.4, 10.4]).range([boxA.bottom, boxA.top]);

svg.append("clipPath").attr("id", "clipA")
  .append("rect")
    .attr("x", boxA.left).attr("y", boxA.top)
    .attr("width", boxA.right - boxA.left).attr("height", boxA.bottom - boxA.top);

const lineA = d3.line()
    .x(function(d, i) { return xA(years[i]); })
    .y(function(d) { return yA(d); });

const gA = svg.append("g").attr("clip-path", "url(#clipA)");
gA.selectAll(".low")
  .data(modelsLow)
  .join("path")
    .attr("fill", "none")
    .attr("stroke", grey)
    .attr("stroke-width", 1.4)
    .attr("d", lineA);
gA.selectAll(".high")
  .data(modelsHigh)
  .join("path")
    .attr("fill", "none")
    .attr("stroke", "#000")
    .attr("stroke-width", 1.3)
    .attr("stroke-dasharray", dash)
    .attr("d", lineA);
gA.append("path")
  .datum(observed)
    .attr("fill", "none")
    .attr("stroke", "#000")
    .attr("stroke-width", 7)
    .attr("stroke-linejoin", "round")
    .attr("d", lineA);

// ---------- panel b: CDFs ----------
const boxB = {left: 688, right: 1210, top: 39, bottom: 393};
const xB = d3.scaleLinear().domain([-0.6, 15.6]).range([boxB.left, boxB.right]);
const yB = d3.scaleLinear().domain([-0.04, 1.04]).range([boxB.bottom, boxB.top]);

svg.append("clipPath").attr("id", "clipB")
  .append("rect")
    .attr("x", boxB.left).attr("y", boxB.top)
    .attr("width", boxB.right - boxB.left).attr("height", boxB.bottom - boxB.top);

// empirical CDF evaluated on a 0.1 mm/day grid
const grid = d3.range(0, 157).map(function(i) { return i / 10; });
function ecdf(values) {
  const s = values.slice().sort(d3.ascending);
  return grid.map(function(x) { return [x, d3.bisectRight(s, x + 1e-9) / s.length]; });
}
const lineB = d3.line()
    .x(function(d) { return xB(d[0]); })
    .y(function(d) { return yB(d[1]); });

const gB = svg.append("g").attr("clip-path", "url(#clipB)");
gB.selectAll(".low")
  .data(modelsLow.map(ecdf))
  .join("path")
    .attr("fill", "none")
    .attr("stroke", grey)
    .attr("stroke-width", 1.4)
    .attr("d", lineB);
gB.selectAll(".high")
  .data(modelsHigh.map(ecdf))
  .join("path")
    .attr("fill", "none")
    .attr("stroke", "#000")
    .attr("stroke-width", 1.3)
    .attr("stroke-dasharray", dash)
    .attr("d", lineB);
gB.append("path")
  .datum(ecdf(observed))
    .attr("fill", "none")
    .attr("stroke", "#000")
    .attr("stroke-width", 7)
    .attr("stroke-linejoin", "round")
    .attr("d", lineB);

// ---------- axes, boxes and labels ----------
function styleAxis(g) {
  g.select(".domain").remove();
  g.selectAll("line").attr("stroke", "#222");
  g.selectAll("text").attr("font-size", 18).attr("fill", "#000");
}

function drawFrame(box, xScale, yScale, xTicks, yTicks, yFormat, yLabelX) {
  svg.append("rect")
      .attr("x", box.left + 0.5).attr("y", box.top + 0.5)
      .attr("width", box.right - box.left - 1).attr("height", box.bottom - box.top - 1)
      .attr("fill", "none").attr("stroke", "#222").attr("stroke-width", 1.2);

  svg.append("g")
      .attr("transform", `translate(0, ${box.bottom})`)
    .call(d3.axisBottom(xScale).tickValues(xTicks).tickSize(7).tickPadding(4).tickFormat(d3.format("d")))
    .call(styleAxis);

  svg.append("g")
      .attr("transform", `translate(${box.left}, 0)`)
    .call(d3.axisLeft(yScale).tickValues(yTicks).tickSize(7).tickFormat(yFormat))
    .call(styleAxis)
    .call(function(g) {
      g.selectAll("text")
          .attr("x", null).attr("dy", null)
          .attr("text-anchor", "middle")
          .attr("transform", `translate(${yLabelX - box.left}, 0) rotate(-90)`);
    });
}

drawFrame(boxA, xA, yA, yearTicks, rainTicks, d3.format("d"), 55);
drawFrame(boxB, xB, yB, cdfXTicks, cdfYTicks, d3.format(".1f"), 675);

// titles
svg.append("text")
    .attr("x", 326).attr("y", 22)
    .attr("text-anchor", "middle")
    .attr("font-size", 19).attr("font-weight", "bold")
  .text("Annual Mean Rainfall");
svg.append("text")
    .attr("x", 949).attr("y", 22)
    .attr("text-anchor", "middle")
    .attr("font-size", 19).attr("font-weight", "bold")
  .text("CDFs for Annual Mean Rainfall");

// panel letters
svg.append("text").attr("x", 8).attr("y", 23).attr("font-size", 18).text("a");
svg.append("text").attr("x", 631).attr("y", 23).attr("font-size", 18).text("b");

// axis titles
svg.append("text")
    .attr("x", 326).attr("y", 438)
    .attr("text-anchor", "middle").attr("font-size", 18)
  .text("Year");
svg.append("text")
    .attr("x", 949).attr("y", 437)
    .attr("text-anchor", "middle").attr("font-size", 18)
  .text("mean rainfall, (mm/day)");
svg.append("text")
    .attr("transform", "translate(28, 216) rotate(-90)")
    .attr("text-anchor", "middle").attr("font-size", 18)
  .text("Rainfall (mm/day)");
svg.append("text")
    .attr("transform", "translate(651, 216) rotate(-90)")
    .attr("text-anchor", "middle").attr("font-size", 18)
  .text("Cumulative probability");
</script>
</body>
</html>
